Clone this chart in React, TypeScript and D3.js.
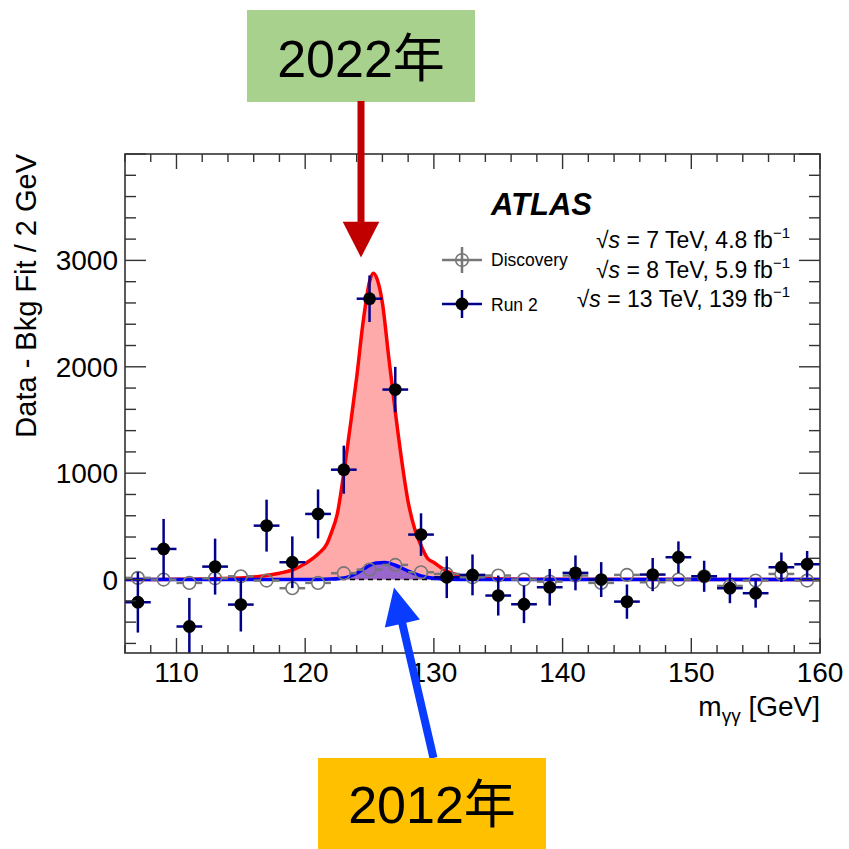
import React from 'react';
import * as d3 from 'd3';

// ---- data ----
const massBins = [107, 109, 111, 113, 115, 117, 119, 121, 123, 125, 127, 129, 131, 133, 135, 137, 139, 141, 143, 145, 147, 149, 151, 153, 155, 157, 159];
const run2Values = [-213, 288, -441, 122, -235, 507, 163, 617, 1033, 2640, 1786, 423, 22, 44, -150, -232, -72, 63, 0, -207, 47, 210, 31, -81, -128, 116, 144];
const run2Errors = [285, 282, 269, 263, 253, 244, 243, 230, 226, 219, 213, 200, 196, 192, 188, 177, 172, 164, 164, 161, 156, 149, 146, 141, 136, 138, 125];
const discoveryValues = [16, 0, -31, 12, 31, -9, -81, -31, 60, 94, 138, 69, 53, 22, 38, 0, -19, 38, -31, 44, -25, 0, 31, -60, -9, 53, -9];
const binHalfWidth = 1;

const run2FitMass = [106, 110, 113, 116, 118, 119, 120, 121, 121.7, 122, 122.5, 123, 123.5, 124, 124.5, 125, 125.3, 125.6, 126, 126.5, 127, 127.5, 128, 128.5, 129, 129.5, 130, 131, 132, 134, 137, 160];
const run2FitValue = [0, 2, 8, 25, 60, 90, 150, 240, 340, 430, 620, 1000, 1440, 1900, 2420, 2800, 2880, 2820, 2600, 2080, 1580, 1120, 730, 480, 320, 200, 160, 80, 40, 12, 3, 0];
const discFitMass = [106, 120, 122, 123, 124, 124.8, 125.5, 126.2, 127, 128, 129, 130, 131, 133, 160];
const discFitValue = [0, 0, 5, 15, 60, 120, 155, 160, 135, 80, 35, 12, 4, 0, 0];

const xTickValues = [110, 120, 130, 140, 150, 160];
const yTickValues = [0, 1000, 2000, 3000];

const FONT = "'Liberation Sans', Arial, Helvetica, sans-serif";
const CJK = "'Liberation Sans', 'Noto Sans CJK SC', sans-serif";

export default function App() {
  const L = 125, R = 820, T = 154, B = 653;
  const x = d3.scaleLinear().domain([106, 160]).range([L, R]);
  const y = d3.scaleLinear().domain([-690, 4000]).range([B, T]);

  const redPts: [number, number][] = run2FitMass.map((m, i) => [m, run2FitValue[i]]);
  const bluePts: [number, number][] = discFitMass.map((m, i) => [m, discFitValue[i]]);

  const line = d3.line<[number, number]>().x(d => x(d[0])).y(d => y(d[1])).curve(d3.curveMonotoneX);
  const area = d3.area<[number, number]>().x(d => x(d[0])).y0(y(0)).y1(d => y(d[1])).curve(d3.curveMonotoneX);

  const xMinor = d3.range(106, 161, 2);
  const yMinor = d3.range(-600, 4001, 200);
  const axisColor = '#333';

  // blue arrow geometry
  const tip = [394, 587.5], end = [433.5, 758];
  const len = Math.hypot(end[0] - tip[0], end[1] - tip[1]);
  const u = [(end[0] - tip[0]) / len, (end[1] - tip[1]) / len];
  const n = [-u[1], u[0]];
  const hl = 37, hw = 18, sw = 4;
  const bc = [tip[0] + hl * u[0], tip[1] + hl * u[1]];
  const p = (a: number[], s: number, v: number[]) => [a[0] + s * v[0], a[1] + s * v[1]];
  const arrowPts = [
    tip,
    p(bc, hw, n),
    p(bc, sw, n),
    p(end, sw, n),
    p(end, -sw, n),
    p(bc, -sw, n),
    p(bc, -hw, n),
  ].map(q => q.join(',')).join(' ');

  const energyLines = [
    { y: 248, text: ' = 7 TeV, 4.8 fb' },
    { y: 277.5, text: ' = 8 TeV, 5.9 fb' },
    { y: 307, text: ' = 13 TeV, 139 fb' },
  ];

  return (
    <svg width={849} height={849} style={{ position: 'absolute', left: 0, top: 0, background: '#fff' }} fontFamily={FONT}>
      <defs>
        <clipPath id="frame">
          <rect x={L} y={T} width={R - L} height={B - T} />
        </clipPath>
      </defs>
      <rect x={0} y={0} width={849} height={849} fill="#fff" />

      <g clipPath="url(#frame)">
        <path d={area(redPts) || ''} fill="#ffaaaa" />
        <path d={area(bluePts) || ''} fill="#9966cc" />
        <line x1={L} x2={R} y1={y(0)} y2={y(0)} stroke="#000" strokeWidth={1.5} strokeDasharray="5,4" />
        <path d={line(redPts) || ''} fill="none" stroke="#ff0000" strokeWidth={3.5} />
        <path d={line(bluePts) || ''} fill="none" stroke="#0000ff" strokeWidth={3.5} />

        {/* Discovery points */}
        {massBins.map((m, i) => {
          const cx = x(m), cy = y(discoveryValues[i]);
          return (
            <g key={'d' + i}>
              <line x1={x(m - binHalfWidth)} x2={cx - 6.3} y1={cy} y2={cy} stroke="#777" strokeWidth={2.5} />
              <line x1={cx + 6.3} x2={x(m + binHalfWidth)} y1={cy} y2={cy} stroke="#777" strokeWidth={2.5} />
              <circle cx={cx} cy={cy} r={6.3} fill="none" stroke="#777" strokeWidth={1.6} />
            </g>
          );
        })}

        {/* Run 2 points */}
        {massBins.map((m, i) => {
          const cx = x(m), cy = y(run2Values[i]);
          return (
            <g key={'r' + i}>
              <line x1={x(m - binHalfWidth)} x2={x(m + binHalfWidth)} y1={cy} y2={cy} stroke="#00008b" strokeWidth={2.5} />
              <line x1={cx} x2={cx} y1={y(run2Values[i] - run2Errors[i])} y2={y(run2Values[i] + run2Errors[i])} stroke="#00008b" strokeWidth={2.5} />
              <circle cx={cx} cy={cy} r={6.4} fill="#000" />
            </g>
          );
        })}
      </g>

      {/* frame + ticks */}
      <rect x={L} y={T} width={R - L} height={B - T} fill="none" stroke={axisColor} strokeWidth={1.6} />
      {xMinor.map(v => {
        const major = xTickValues.includes(v);
        const len2 = major ? 15 : 8;
        return (
          <g key={'xt' + v}>
            <line x1={x(v)} x2={x(v)} y1={B} y2={B - len2} stroke={axisColor} strokeWidth={1.4} />
            <line x1={x(v)} x2={x(v)} y1={T} y2={T + len2} stroke={axisColor} strokeWidth={1.4} />
          </g>
        );
      })}
      {yMinor.map(v => {
        const major = v % 1000 === 0;
        const len2 = major ? 21 : 11;
        return (
          <g key={'yt' + v}>
            <line x1={L} x2={L + len2} y1={y(v)} y2={y(v)} stroke={axisColor} strokeWidth={1.4} />
            <line x1={R} x2={R - len2} y1={y(v)} y2={y(v)} stroke={axisColor} strokeWidth={1.4} />
          </g>
        );
      })}
      {xTickValues.map(v => (
        <text key={'xl' + v} x={x(v)} y={682} fontSize={28} textAnchor="middle" fill="#000">{v}</text>
      ))}
      {yTickValues.map(v => (
        <text key={'yl' + v} x={118} y={y(v) + 10} fontSize={28} textAnchor="end" fill="#000">{v}</text>
      ))}

      {/* axis titles */}
      <text transform={`translate(36,${T}) rotate(-90)`} fontSize={29} textAnchor="end" fill="#000">Data - Bkg Fit / 2 GeV</text>
      <text x={R} y={716} fontSize={28} textAnchor="end" fill="#000">
        m<tspan fontSize={19} dy={6}>γγ</tspan><tspan dy={-6}> [GeV]</tspan>
      </text>

      {/* ATLAS label & energies */}
      <text x={491} y={215} fontSize={31} fontWeight="bold" fontStyle="italic" fill="#000">ATLAS</text>
      {energyLines.map((e, i) => (
        <text key={'e' + i} x={790} y={e.y} fontSize={23} textAnchor="end" fill="#000">
          <tspan>√</tspan><tspan fontStyle="italic">s</tspan><tspan>{e.text}</tspan><tspan fontSize={15} dy={-10}>−1</tspan>
        </text>
      ))}

      {/* legend */}
      <line x1={442} x2={482} y1={260} y2={260} stroke="#777" strokeWidth={2.5} />
      <line x1={462} x2={462} y1={247} y2={273} stroke="#777" strokeWidth={2.5} />
      <circle cx={462} cy={260} r={6.3} fill="none" stroke="#777" strokeWidth={1.6} />
      <text x={491} y={266} fontSize={17.5} fill="#000">Discovery</text>
      <line x1={442} x2={482} y1={304} y2={304} stroke="#00008b" strokeWidth={2.5} />
      <line x1={462} x2={462} y1={290} y2={318} stroke="#00008b" strokeWidth={2.5} />
      <circle cx={462} cy={304} r={6.4} fill="#000" />
      <text x={491} y={311} fontSize={17.5} fill="#000">Run 2</text>

      {/* annotations */}
      <rect x={247} y={10} width={228} height={92} fill="#a9d18e" />
      <text x={361} y={77} fontSize={52} textAnchor="middle" fontFamily={CJK} fill="#000">2022年</text>
      <rect x={357.5} y={101} width={7} height={122} fill="#c00000" />
      <polygon points="342.7,221.7 379.3,221.7 361,257.5" fill="#c00000" />

      <polygon points={arrowPts} fill="#0a3cff" />
      <rect x={318} y={758} width={228} height={91} fill="#ffc000" />
      <text x={432} y={823} fontSize={52} textAnchor="middle" fontFamily={CJK} fill="#000">2012年</text>
    </svg>
  );
}
